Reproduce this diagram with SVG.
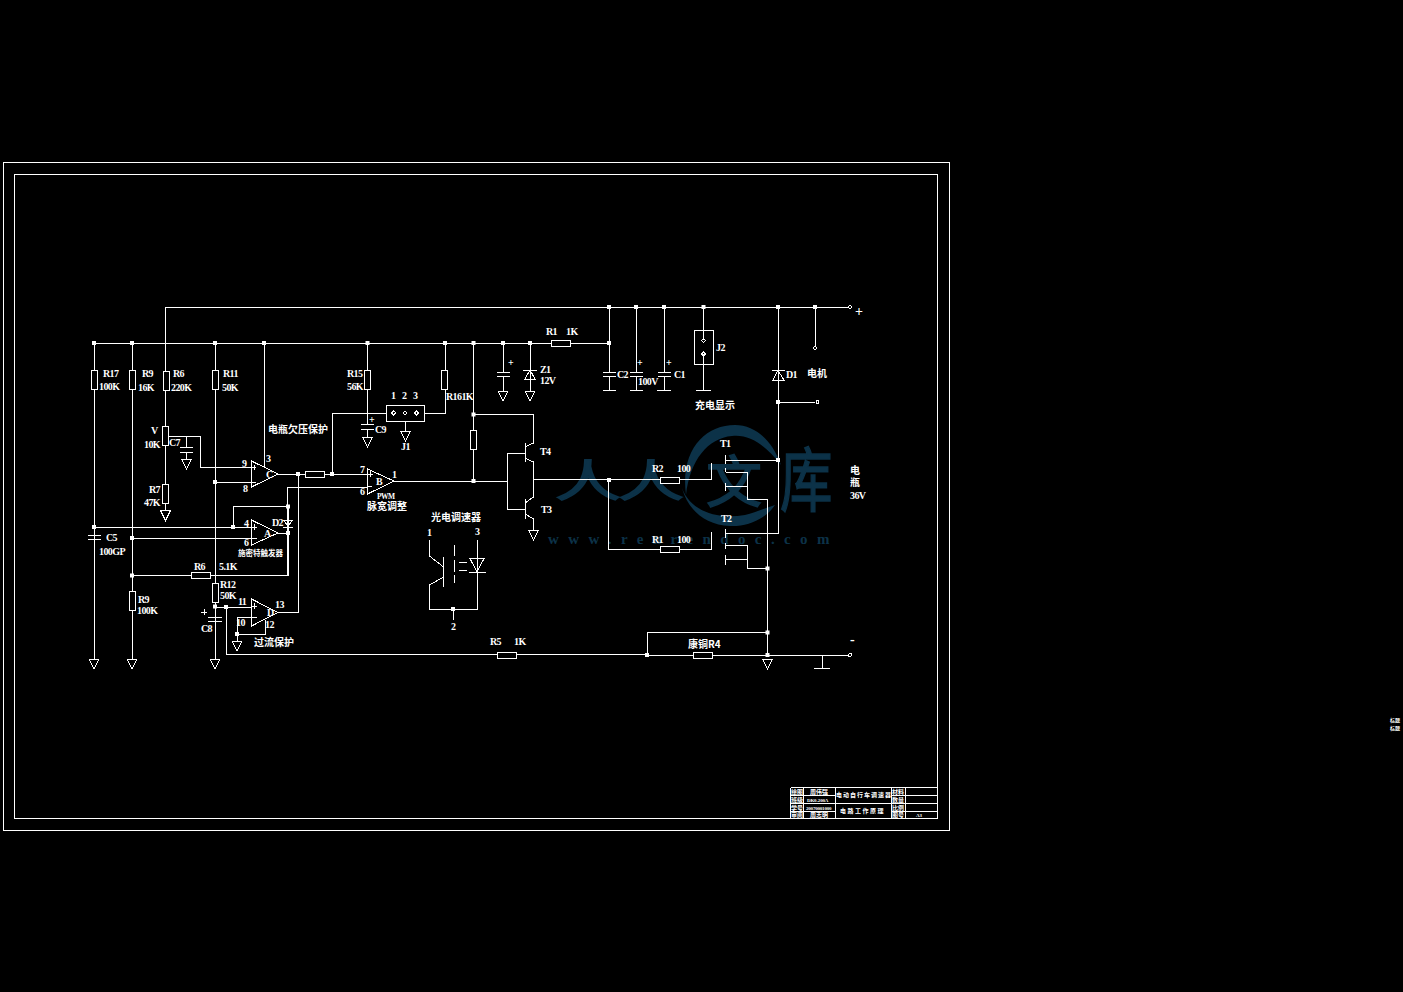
<svg xmlns="http://www.w3.org/2000/svg" width="1403" height="992" viewBox="0 0 1403 992">
<style>
.l{fill:none;stroke:#fff;stroke-width:1;shape-rendering:crispEdges}
.b{fill:#000;stroke:#fff;stroke-width:1;shape-rendering:crispEdges}
.t{font-family:"Liberation Serif","Noto Sans CJK SC",serif;font-size:10px;font-weight:700;fill:#fff;letter-spacing:-.6px}
.c{font-family:"Noto Sans CJK SC","Liberation Serif",serif;font-size:10px;font-weight:700;fill:#fff}
.s{font-size:7.5px}
.x{font-size:6px}
.n{font-size:5px;letter-spacing:-.2px}
.wm{font-family:"Noto Sans CJK SC",serif;font-weight:400;fill:#0c3248;stroke:#0c3248;stroke-width:1.5px}
.ws{font-family:"Liberation Serif",serif;font-size:15px;font-weight:700;fill:#0c3248;letter-spacing:9.4px}
</style>
<defs>
<rect id="d" x="-2" y="-2" width="4" height="4" fill="#fff"/>
<path id="g" class="l" d="M-5,0H5L0,10Z"/>
<path id="cap" class="l" d="M-6.500,0H6.500M-6.500,4.500H6.500"/>
<path id="o" class="l" d="M-2,0L0,-2L2,0L0,2Z"/>
</defs>
<rect width="1403" height="992" fill="#000"/>
<g id="watermark">
<text class="wm" transform="translate(555,497) scale(1.5,1)" font-size="44">人</text>
<text class="wm" transform="translate(618,497) scale(1.5,1)" font-size="44">人</text>
<text class="wm" x="706" y="502" font-size="56">文</text>
<text class="wm" transform="translate(780,506) scale(.75,1)" font-size="70">库</text>
<path fill="#0c3248" d="M686,495C680,450 705,425 735,425C755,425 772,440 781,465C765,445 750,434 732,436C708,438 690,460 686,495Z"/>
<path fill="#0c3248" d="M682,488C690,510 715,520 745,515C755,513 765,508 775,505C765,520 745,527 730,526C705,525 688,510 682,488Z"/>
<text class="ws" x="548" y="544">www.renrendoc.com</text>
</g>
<g id="frame">
<rect class="l" x="3.500" y="162.500" width="946" height="668"/>
<rect class="l" x="14.500" y="174.500" width="922.500" height="644"/>
</g>
<g id="connectors">
<path class="l" d="M165,343V307H848M94,343H609M94,343V659M132,343V659M165,343V484M215,343V659M264,343V468"/>
<path class="l" d="M168,436H200V467H251M186,436V447M186,452V459M215,482H251M278,474H368M298,474V612.500H278M287,487H368M287,487V575.500H132M233,527V506.500H288V575.500M94,527H251M132,538H251M278,533H288"/>
<path class="l" d="M94,535V527M215,607H251M226,607V654.500H648M237,617H251M237,617V641M237,634H265V620"/>
<path class="l" d="M165,503V510M367.500,343V424.500M367.500,429V437M445,343V413H424.500M332,474V413H386M405,421.500V431M394,481H507M473.500,343V481M473.500,414.500H533.500V443L525,447M525,458L533.500,462V497L525,503M525,514L533.500,519V530M507,453V509M507,453H525M507,509H525M533.500,479.500H660M503,343V372M503,376.500V391M530,343V391"/>
<path class="l" d="M570,343H609M530,343H551.500M609,307V372M609,377V390M636,307V372M636,377V390M664,307V372M664,377V390M703.500,307V340M703.500,354V390M778,307V533.500H725.500M778,402H815M815,307V346M778,460H725.500"/>
<path class="l" d="M608.500,480V549H660M679,479.500H711.500V463M679,549H711.500V532M725.500,472H747.500V499.500H767.500V655M725.500,486.500H747.500M725.500,545.500H747.500V568.500H767.500M725.500,559.500H747.500M647,655V632.500H767.500M648,655H693.500M712,655H848M822,655V668"/>
<path class="l" d="M429.500,540V556L443.500,567M443.500,577L429.500,585V609H477.500V540M453,609V620"/>
</g>
<g id="junctions">
<use href="#d" x="94" y="343"/><use href="#d" x="132" y="343"/><use href="#d" x="215" y="343"/><use href="#d" x="264" y="343"/><use href="#d" x="367.500" y="343"/><use href="#d" x="445" y="343"/><use href="#d" x="473.500" y="343"/><use href="#d" x="503" y="343"/><use href="#d" x="530" y="343"/><use href="#d" x="609" y="343"/>
<use href="#d" x="609" y="307"/><use href="#d" x="636" y="307"/><use href="#d" x="664" y="307"/><use href="#d" x="703.500" y="307"/><use href="#d" x="778" y="307"/><use href="#d" x="815" y="307"/>
<use href="#d" x="215" y="482"/><use href="#d" x="298" y="474"/><use href="#d" x="332" y="474"/><use href="#d" x="473.500" y="414.500"/><use href="#d" x="473.500" y="481"/><use href="#d" x="94" y="527"/><use href="#d" x="233" y="527"/><use href="#d" x="288" y="506.500"/><use href="#d" x="288" y="533"/><use href="#d" x="132" y="538"/><use href="#d" x="132" y="575.500"/><use href="#d" x="215" y="606.500"/><use href="#d" x="226" y="607"/><use href="#d" x="237" y="634"/><use href="#d" x="609" y="480"/><use href="#d" x="778" y="402"/><use href="#d" x="778" y="460"/><use href="#d" x="767.500" y="568.500"/><use href="#d" x="767.500" y="632.500"/><use href="#d" x="767.500" y="655"/><use href="#d" x="647" y="655"/><use href="#d" x="453" y="609"/>
</g>
<g id="R17"><rect class="b" x="91.500" y="370.500" width="6" height="19"/><text class="t" x="103" y="377">R17</text><text class="t" x="99" y="390">100K</text></g>
<g id="R9a"><rect class="b" x="129.500" y="370.500" width="6" height="19"/><text class="t" x="142" y="377">R9</text><text class="t" x="138" y="391">16K</text></g>
<g id="R6"><rect class="b" x="163" y="371.500" width="6" height="19"/><text class="t" x="173" y="377">R6</text><text class="t" x="171" y="391">220K</text></g>
<g id="R11"><rect class="b" x="212.500" y="370.500" width="6" height="19"/><text class="t" x="223" y="377">R11</text><text class="t" x="222" y="391">50K</text></g>
<g id="V"><rect class="b" x="162.500" y="426.500" width="6" height="19"/><text class="t" x="151" y="434">V</text><text class="t" x="144" y="448">10K</text><text class="t" x="169" y="446">C7</text></g>
<g id="C7"><path class="l" d="M180,447H193M180,452H193"/><use href="#g" x="186.500" y="459"/></g>
<g id="R7"><rect class="b" x="162.500" y="484.500" width="6" height="19"/><text class="t" x="149" y="493">R7</text><text class="t" x="144" y="506">47K</text><use href="#g" x="165.500" y="510.500"/></g>
<g id="opC"><path class="b" d="M251.500,461V487L278,474Z"/><path class="l" d="M251.500,467H256M254,464.500V469.500M251.500,482H256"/><text class="t" x="242" y="467">9</text><text class="t" x="266" y="462">3</text><text class="t" x="243" y="492">8</text><text class="t" x="266" y="478">C</text></g>
<g id="label-undervolt"><text class="c" x="268" y="433">电瓶欠压保护</text></g>
<g id="R-series"><rect class="b" x="305.500" y="471" width="19" height="6"/></g>
<g id="opB"><path class="b" d="M367.500,469V494L394,481Z"/><path class="l" d="M367.500,474H373M370,471V477M367.500,486H372"/><text class="t" x="360" y="473">7</text><text class="t" x="360" y="495">6</text><text class="t" x="376" y="485">B</text><text class="t" x="392" y="478">1</text><text class="t s" x="377" y="499">PWM</text><text class="c" x="367" y="510">脉宽调整</text></g>
<g id="opA"><path class="b" d="M251.500,520V545L278,533Z"/><path class="l" d="M251.500,527H257M254,524V530M251.500,538H257"/><text class="t" x="244" y="527">4</text><text class="t" x="244" y="546">6</text><text class="t" x="264" y="537">A</text><text class="c s" x="238" y="556">施密特触发器</text></g>
<g id="D2"><path class="l" d="M283,520H293M284,520L288,527L292,520M283,527H293"/><text class="t" x="272" y="526">D2</text></g>
<g id="C5"><use href="#cap" x="94" y="535"/><text class="t" x="106" y="541">C5</text><text class="t" x="99" y="555">100GP</text></g>
<g id="R5a"><rect class="b" x="191.500" y="572.500" width="19" height="6"/><text class="t" x="194" y="570">R6</text><text class="t" x="219" y="570">5.1K</text></g>
<g id="R9b"><rect class="b" x="129.500" y="591.500" width="6" height="19"/><text class="t" x="138" y="603">R9</text><text class="t" x="137" y="614">100K</text></g>
<g id="R12"><rect class="b" x="212.500" y="583.500" width="6" height="19"/><text class="t" x="220" y="588">R12</text><text class="t" x="220" y="599">50K</text></g>
<g id="C8"><path class="l" d="M208,617H222M208,621H222M215,602V617M201,612H207M204,609V615"/><text class="t" x="201" y="632">C8</text></g>
<g id="opD"><path class="b" d="M251.500,599V626L278,612.500Z"/><path class="l" d="M251.500,606H257M254,603V609M251.500,617H257"/><text class="t" x="238" y="605">11</text><text class="t" x="236" y="626">10</text><text class="t" x="265" y="628">12</text><text class="t" x="275" y="608">13</text><text class="t" x="267" y="616">D</text></g>
<g id="gnd-10"><use href="#g" x="237" y="641"/></g>
<g id="label-overcurrent"><text class="c" x="254" y="646">过流保护</text></g>
<g id="gnd-bottom"><use href="#g" x="94" y="659"/><use href="#g" x="132" y="659"/><use href="#g" x="215" y="659"/><use href="#g" x="767.500" y="659"/><path class="l" d="M814,668.500H830"/></g>
<g id="R15"><rect class="b" x="364.500" y="370.500" width="6" height="19"/><text class="t" x="347" y="377">R15</text><text class="t" x="347" y="390">56K</text></g>
<g id="R16"><rect class="b" x="441.500" y="370.500" width="6" height="19"/><text class="t" x="446" y="400">R161K</text></g>
<g id="J1"><rect class="b" x="386.500" y="405.500" width="38" height="16"/><use href="#o" x="393.700" y="413"/><use href="#o" x="405" y="413"/><use href="#o" x="416.500" y="413"/><text class="t" x="391" y="399">1</text><text class="t" x="402" y="399">2</text><text class="t" x="413" y="399">3</text><text class="t" x="401" y="450">J1</text><use href="#g" x="405.500" y="431"/></g>
<g id="C9"><use href="#cap" x="367.500" y="424.500"/><use href="#g" x="367.500" y="437"/><text class="t" x="375" y="433">C9</text><text class="t" x="369" y="423">+</text></g>
<g id="R-T4"><rect class="b" x="470.500" y="430.500" width="6" height="19"/></g>
<g id="T4"><path class="l" d="M525,443V462"/><text class="t" x="540" y="455">T4</text></g>
<g id="T3"><path class="l" d="M525,499V519"/><use href="#g" x="533.500" y="530"/><text class="t" x="541" y="513">T3</text></g>
<g id="C-503"><use href="#cap" x="503" y="372"/><use href="#g" x="503" y="391"/><text class="t" x="508" y="366">+</text></g>
<g id="Z1"><path class="l" d="M523,370H537M530,370L525,379H535Z"/><use href="#g" x="530" y="391"/><text class="t" x="540" y="373">Z1</text><text class="t" x="540" y="384">12V</text></g>
<g id="R1-top"><rect class="b" x="551.500" y="340" width="19" height="6"/><text class="t" x="546" y="335">R1</text><text class="t" x="566" y="335">1K</text></g>
<g id="C2"><use href="#cap" x="609" y="372"/><path class="l" d="M603,390.500H616"/><text class="t" x="617" y="378">C2</text></g>
<g id="C100V"><use href="#cap" x="636" y="372"/><path class="l" d="M630,390.500H643"/><text class="t" x="637" y="366">+</text><text class="t" x="638" y="385">100V</text></g>
<g id="C1"><use href="#cap" x="664" y="372"/><path class="l" d="M657,390.500H671"/><text class="t" x="666" y="366">+</text><text class="t" x="674" y="378">C1</text></g>
<g id="J2"><rect class="b" x="694.500" y="330.500" width="18.500" height="34"/><use href="#o" x="703.500" y="340.500"/><use href="#o" x="703.500" y="354"/><path class="l" d="M703.500,307V340M703.500,354V390M696,390.500H711"/><text class="t" x="716" y="351">J2</text><text class="c" x="695" y="409">充电显示</text></g>
<g id="D1"><path class="l" d="M771.500,370.500H785M778,370.500L773,380H784Z"/><text class="t" x="786" y="378">D1</text></g>
<g id="motor"><use href="#o" x="815" y="348"/><circle class="l" cx="817.500" cy="402" r="1.500"/><text class="c" x="807" y="377">电机</text></g>
<g id="T1"><path class="l" d="M725.500,455V464M725.500,468V472M725.500,483V491"/><text class="t" x="720" y="447">T1</text></g>
<g id="T2"><path class="l" d="M725.500,529V538M725.500,543V549M725.500,555V565"/><text class="t" x="721" y="522">T2</text></g>
<g id="R2"><rect class="b" x="660.500" y="477" width="18.500" height="6"/><text class="t" x="652" y="472">R2</text><text class="t" x="677" y="472">100</text></g>
<g id="R1"><rect class="b" x="660.500" y="546.500" width="18.500" height="6"/><text class="t" x="652" y="543">R1</text><text class="t" x="677" y="543">100</text></g>
<g id="R5"><rect class="b" x="497.500" y="652" width="18.500" height="6"/><text class="t" x="490" y="645">R5</text><text class="t" x="514" y="645">1K</text></g>
<g id="R4"><rect class="b" x="693.500" y="652" width="18.500" height="6"/><text class="c" x="688" y="648">康铜R4</text></g>
<g id="terminals"><use href="#o" x="850" y="307"/><circle class="l" cx="850" cy="655" r="1.500"/><text class="t" x="855" y="316" style="font-size:14px">+</text><text class="t" x="850" y="644" style="font-size:14px">-</text><text class="c" x="850" y="474">电</text><text class="c" x="850" y="486">瓶</text><text class="t" x="850" y="499">36V</text></g>
<g id="optocoupler"><path class="l" d="M443.500,557V587M454.500,545V556M454.500,560V572M454.500,575V583M459,562H467M459,570H467M470,558.500H484L477,572ZM469,572H486"/><text class="c" x="431" y="521">光电调速器</text><text class="t" x="427" y="536">1</text><text class="t" x="475" y="535">3</text><text class="t" x="451" y="630">2</text></g>
<g id="title-block">
<path class="l" d="M790.500,787.500H937M790.500,795.500H835M891,795.500H937M790.500,803.500H937M790.500,811H835M891,811H937M790.500,787.500V818.500M803.500,787.500V818.500M835,787.500V818.500M891,787.500V818.500M905,787.500V818.500"/>
<text class="c x" x="791" y="794">绘图</text><text class="c x" x="791" y="802">班级</text><text class="c x" x="791" y="809.500">学号</text><text class="c x" x="791" y="817">审阅</text>
<text class="c x" x="810" y="794">周伟强</text><text class="t n" x="807" y="802">DK0-200A</text><text class="t n" x="806" y="809.500">20070001000</text><text class="c x" x="810" y="817">周志明</text>
<text class="c x" x="836" y="797" letter-spacing="1">电动自行车调速器</text><text class="c x" x="840" y="813" letter-spacing="1.500">电路工作原理</text>
<text class="c x" x="892" y="794">材料</text><text class="c x" x="892" y="802">数量</text><text class="c x" x="892" y="809.500">比例</text><text class="c x" x="892" y="817">图号</text><text class="t n" x="916" y="817">A3</text>
</g>
<g id="margin-note"><text class="c" x="1390" y="722" style="font-size:5px">标题</text><text class="c" x="1390" y="730" style="font-size:5px">标题</text></g>
</svg>
